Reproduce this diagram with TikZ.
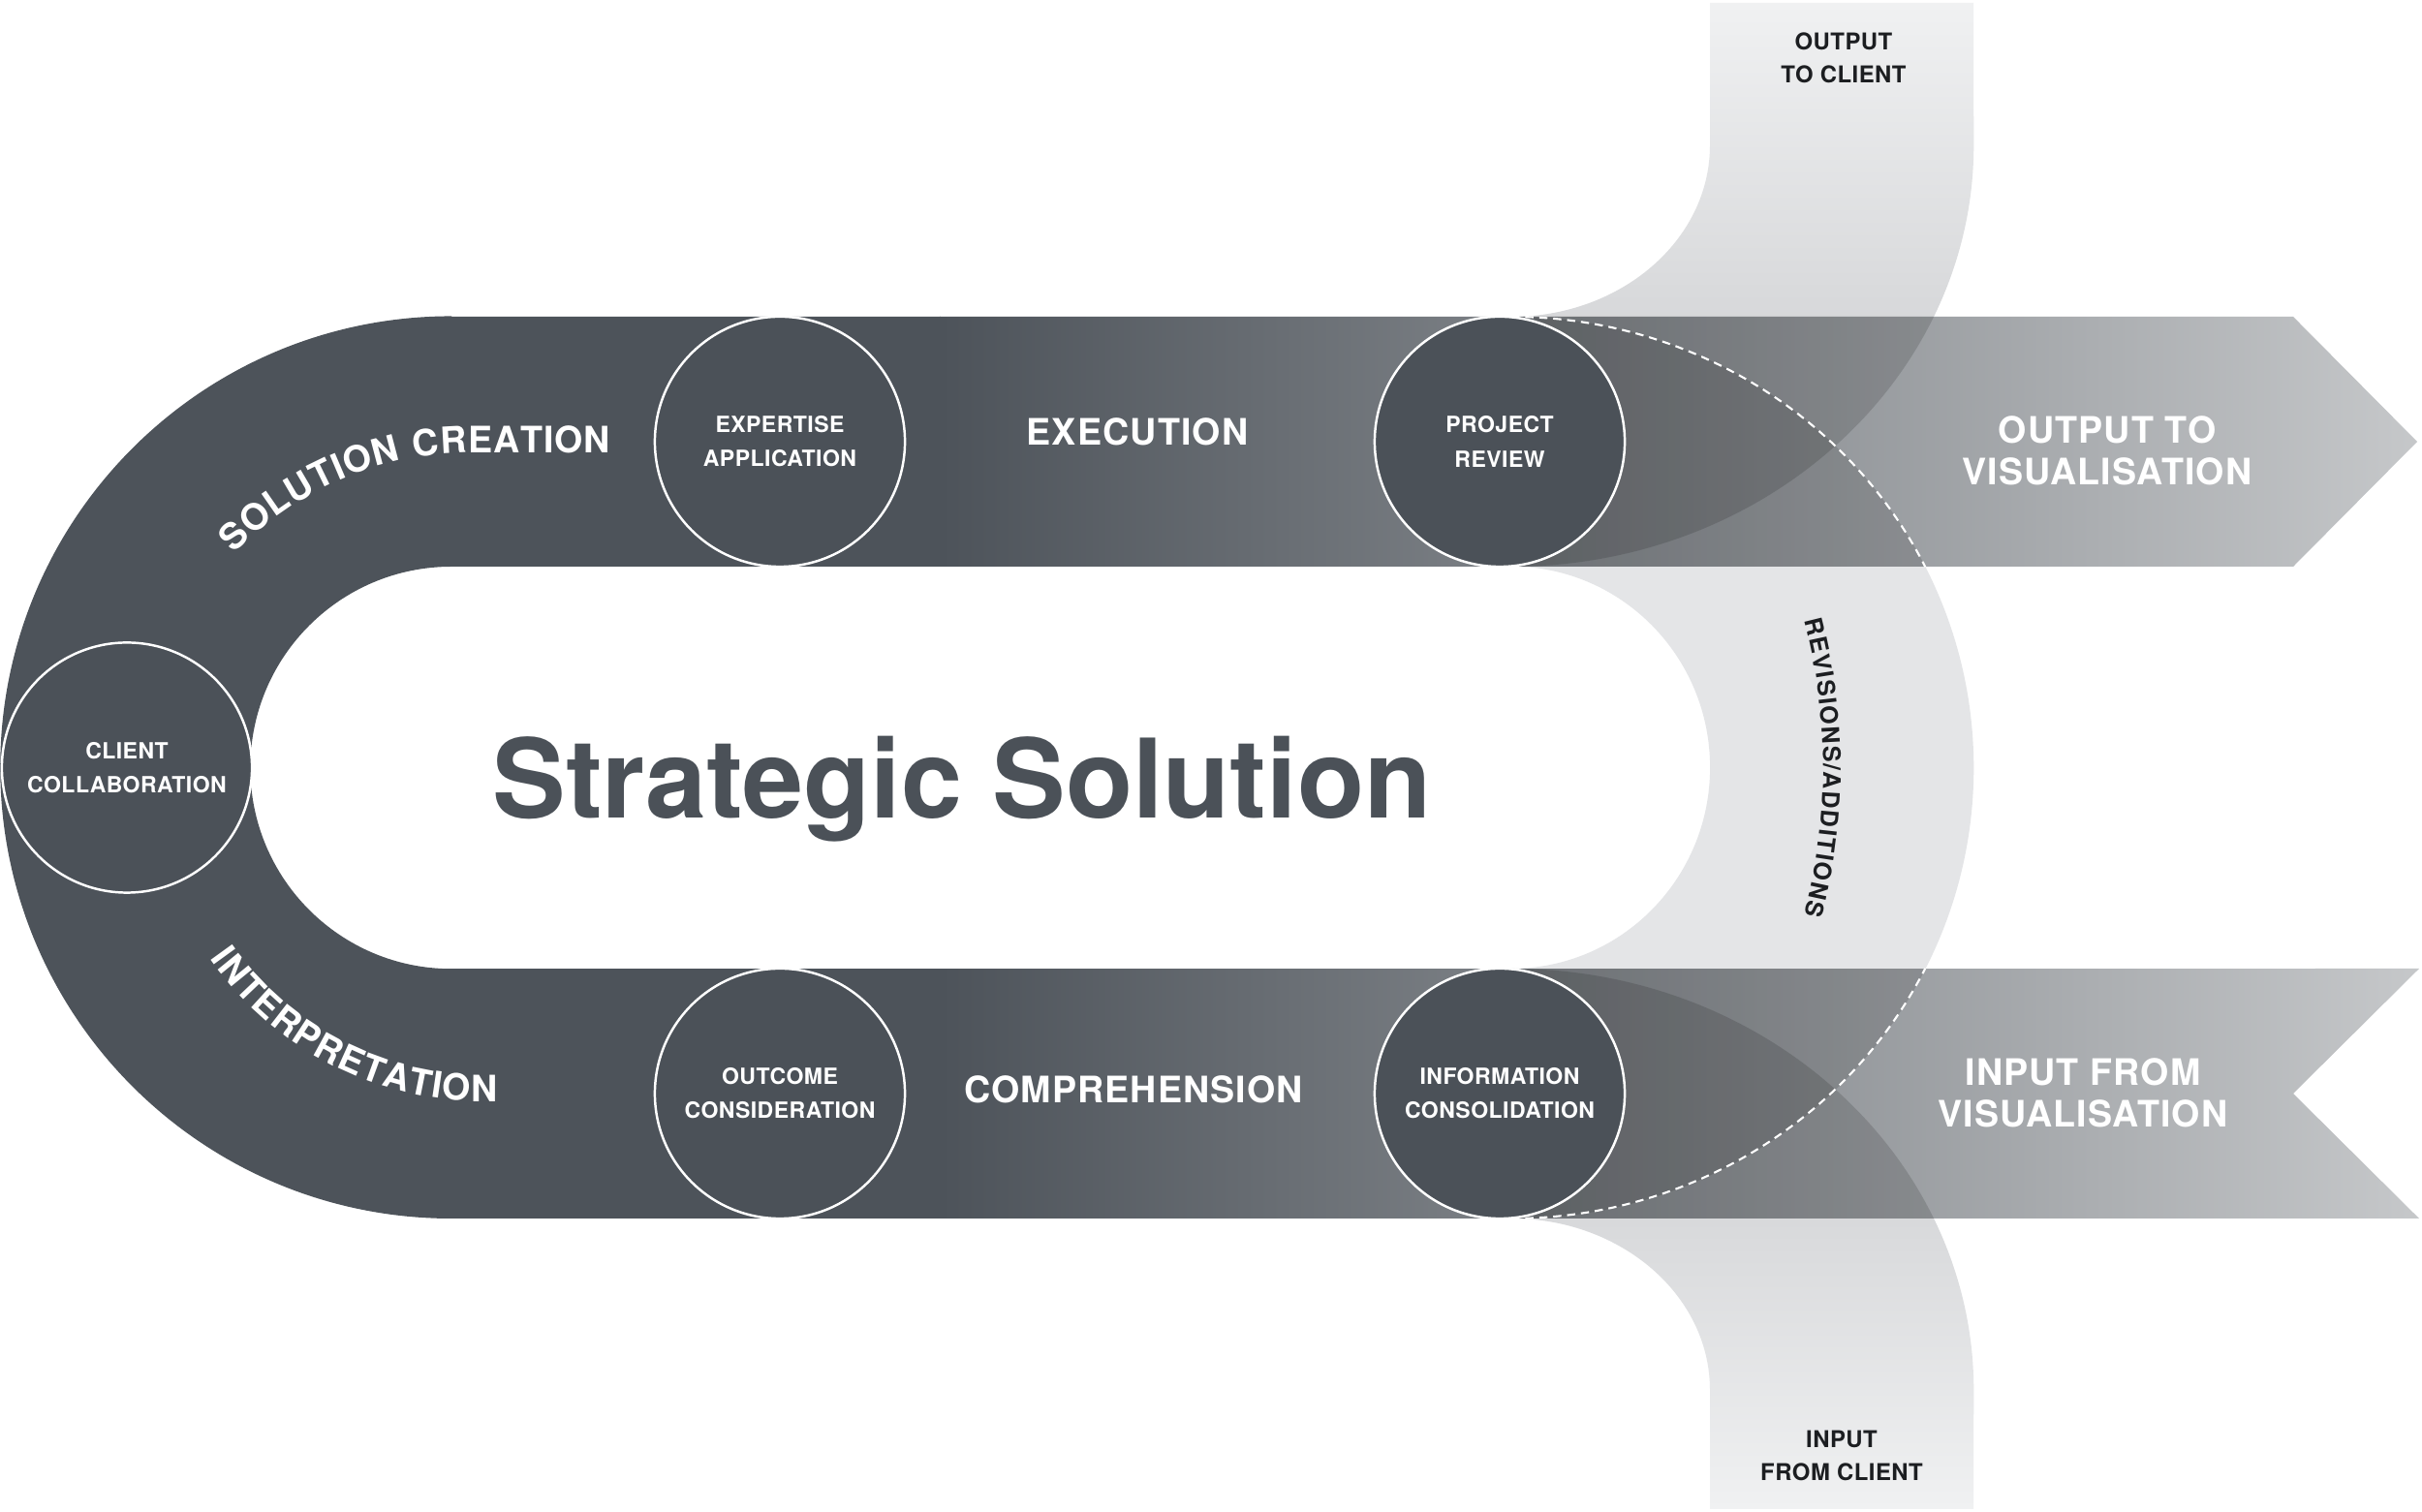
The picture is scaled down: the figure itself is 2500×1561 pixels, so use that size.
\documentclass[tikz,border=0pt]{standalone}
\usepackage{fontspec}
\setmainfont{TeX Gyre Heros}
\newfontfamily\hv[LetterSpace=3]{TeX Gyre Heros}
\newfontfamily\hvs[LetterSpace=2]{TeX Gyre Heros}
\usetikzlibrary{decorations.text}
\definecolor{bandA}{RGB}{77,83,90}
\definecolor{bandC}{RGB}{198,200,202}
\definecolor{circfill}{RGB}{75,81,88}
\definecolor{titlecol}{RGB}{75,81,88}
\definecolor{pipetop}{RGB}{240,241,242}
\definecolor{pipebot}{RGB}{195,196,199}
\definecolor{ringcol}{RGB}{228,229,231}
\definecolor{darktext}{RGB}{28,30,33}

\def\bandpath{(466,1234) -- (2367,1234) -- (2495,1105) -- (2367,976) -- (466,976)
  arc[start angle=90, end angle=270, radius=2.075cm] -- (2497,561) -- (2367,432) -- (2497,303) -- (466,303)
  arc[start angle=270, end angle=90, radius=4.655cm] -- cycle}
\def\outpipe{(1560,976) arc[start angle=-90, end angle=0, x radius=4.77cm, y radius=4.35cm] -- (2037,1558) -- (1765,1558) -- (1765,1411) arc[start angle=0, end angle=-90, x radius=2.05cm, y radius=1.77cm] -- cycle}
\def\inpipe{(1560,561) arc[start angle=90, end angle=0, x radius=4.77cm, y radius=4.35cm] -- (2037,3) -- (1765,3) -- (1765,126) arc[start angle=0, end angle=90, x radius=2.05cm, y radius=1.77cm] -- cycle}
\def\revring{(1560,1234) arc[start angle=90, end angle=-90, x radius=4.77cm, y radius=4.655cm] -- (1560,561) arc[start angle=-90, end angle=90, x radius=2.05cm, y radius=2.075cm] -- cycle}

\begin{document}
\begin{tikzpicture}[x=0.01cm, y=0.01cm,
  stage/.style={circle, draw=white, line width=0.7pt, fill=circfill, minimum size=2.58cm, inner sep=0pt, text=white, align=center, font=\hvs\bfseries\fontsize{6.55}{10}\selectfont},
  biglabel/.style={text=white, font=\hv\bfseries\fontsize{10.7}{12.2}\selectfont, align=center, inner sep=0pt},
  pipelabel/.style={text=darktext, font=\hvs\bfseries\fontsize{6.8}{9.7}\selectfont, align=center, inner sep=0pt},
  dashline/.style={draw=white, line width=0.6pt, dash pattern=on 2.4pt off 1.7pt},
  overlay fill/.style={fill=black, opacity=0.14},
]
\useasboundingbox (0,0) rectangle (2500,1561);
\fill[white] (0,0) rectangle (2500,1561);

% light pipes on white
\shade[top color=pipetop, bottom color=pipebot] \outpipe;
\shade[top color=pipebot, bottom color=pipetop] \inpipe;
\fill[ringcol] \revring;

% main band with gradient
\begin{scope}
  \clip \bandpath;
  \fill[bandA] (0,0) rectangle (971,1561);
  \shade[left color=bandA, right color=bandC] (970,0) rectangle (2500,1561);
\end{scope}

% overlaps of pipes on the band (multiply-like darkening)
\begin{scope}
  \clip \bandpath;
  \fill[overlay fill] \outpipe;
  \fill[overlay fill] \inpipe;
  \fill[overlay fill, opacity=0.12] \revring;
\end{scope}

% dashed revision edges
\draw[dashline] (1560,1234) arc[start angle=90, end angle=26.47, x radius=4.77cm, y radius=4.655cm];
\draw[dashline] (1560,303) arc[start angle=-90, end angle=-26.47, x radius=4.77cm, y radius=4.655cm];

% stage circles
\node[stage] (cc) at (131,768.5) {CLIENT\\COLLABORATION};
\node[stage] (ea) at (805,1105) {EXPERTISE\\APPLICATION};
\node[stage] (pr) at (1548,1105) {PROJECT\\REVIEW};
\node[stage] (oc) at (805,432) {OUTCOME\\CONSIDERATION};
\node[stage] (ic) at (1548,432) {INFORMATION\\CONSOLIDATION};

% labels
\node[font=\bfseries\fontsize{32.2}{36}\selectfont, text=titlecol, anchor=base, inner sep=0pt] (title) at (993,716) {Strategic Solution};
\node[biglabel, anchor=base] (exe) at (1174,1101) {EXECUTION};
\node[biglabel, anchor=base] (comp) at (1170,422) {COMPREHENSION};
\node[biglabel] (otv) at (2175,1096) {OUTPUT TO\\VISUALISATION};
\node[biglabel] (ifv) at (2150,433) {INPUT FROM\\VISUALISATION};
\node[pipelabel] (otc) at (1903,1501) {OUTPUT\\TO CLIENT};
\node[pipelabel] (ifc) at (1901,58) {INPUT\\FROM CLIENT};

% curved labels
\path[decorate, decoration={text along path, text align={fit to path},
  text={|\hv\bfseries\fontsize{10.7}{12}\selectfont\color{white}|SOLUTION CREATION}}]
  (487.5,753.2) ++(136.2:340.5) arc[start angle=136.2, end angle=90, radius=3.405cm] -- (630,1093.7);
\path[decorate, decoration={text along path, text align={fit to path},
  text={|\hv\bfseries\fontsize{10.7}{12}\selectfont\color{white}|INTERPRETATION}}]
  (500,769.6) ++(-145:346) arc[start angle=-145, end angle=-87.8, radius=3.46cm];
\path[decorate, decoration={text along path, text align={fit to path},
  text={|\hv\bfseries\fontsize{7.1}{8}\selectfont\color{darktext}|REVISIONS/ADDITIONS}}]
  (1282,768.5) ++(14.7:600) arc[start angle=14.7, end angle=-14.7, radius=6cm];
\end{tikzpicture}
\end{document}
